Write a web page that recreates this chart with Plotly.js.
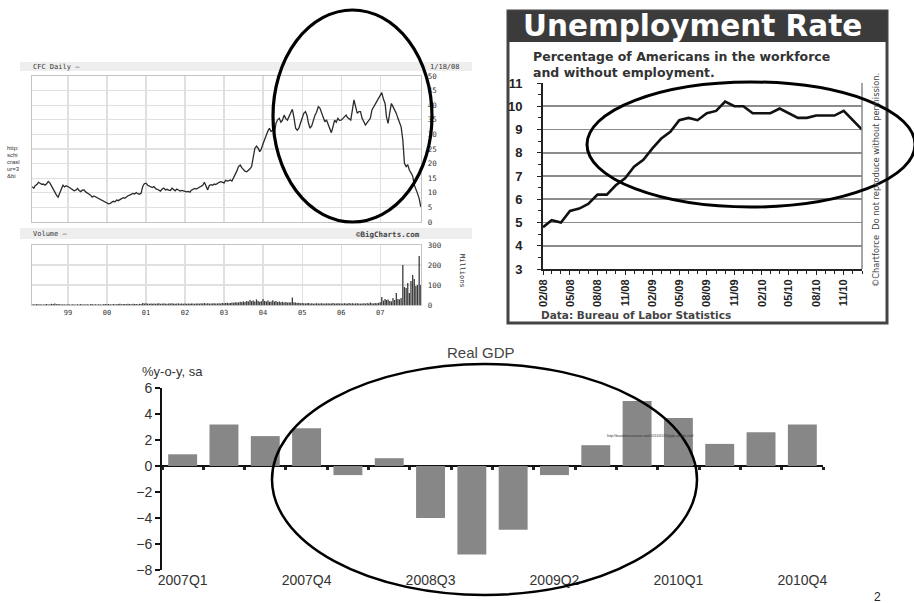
<!DOCTYPE html>
<html>
<head>
<meta charset="utf-8">
<script src="https://cdn.plot.ly/plotly-3.0.1.min.js"></script>
<style>
html,body{margin:0;padding:0;background:#fff;}
#chart{width:914px;height:603px;}
</style>
</head>
<body>
<div id="chart"></div>
<script>
// ---- CFC (Countrywide) closing price, $ : 1st and 16th of each month, Feb 1998 .. Jan 2008
const cfcPrice = [
  // 1998 (Feb-Dec)
  12.1, 11.6, 12.4, 12.8, 13.6, 13.2, 12.9, 13.0, 12.6, 13.1, 13.9, 13.4, 12.2, 11.0, 10.3, 9.2, 8.5, 10.2, 11.3, 12.6, 12.0, 12.4,
  // 1999
  12.2, 11.8, 11.4, 11.0, 10.7, 10.9, 11.5, 10.8, 10.4, 10.9, 11.0, 10.3, 9.8, 9.6, 9.2, 8.5, 8.9, 8.6, 8.1, 7.8, 7.5, 7.2, 6.9, 6.6,
  // 2000
  6.5, 6.2, 6.4, 6.8, 7.1, 6.9, 7.5, 7.3, 7.6, 7.9, 8.3, 8.1, 8.7, 9.0, 9.2, 9.5, 9.8, 9.6, 10.1, 9.7, 9.5, 9.9, 12.2, 13.1,
  // 2001
  13.3, 12.6, 12.3, 12.0, 11.8, 12.1, 11.4, 11.2, 11.0, 10.6, 11.3, 11.6, 11.0, 11.2, 10.9, 10.8, 11.6, 11.2, 10.7, 11.3, 11.0, 10.6, 10.8, 10.7,
  // 2002
  10.6, 10.3, 10.5, 10.2, 10.9, 11.1, 11.5, 11.3, 11.6, 12.0, 12.3, 12.6, 13.6, 12.2, 11.0, 12.5, 12.8, 12.6, 13.0, 12.8, 13.3, 13.6, 13.8, 13.6,
  // 2003
  13.4, 14.3, 14.0, 14.2, 14.4, 14.0, 15.2, 16.1, 17.5, 19.0, 19.5, 18.6, 18.0, 17.4, 17.2, 17.6, 18.2, 19.0, 22.4, 25.2, 26.0, 25.3, 24.1, 25.0,
  // 2004
  26.8, 28.7, 29.8, 31.2, 32.1, 31.0, 31.5, 30.4, 33.8, 35.0, 35.5, 34.2, 34.9, 36.6, 35.4, 34.9, 36.2, 37.5, 38.6, 35.8, 32.1, 31.4, 32.1, 33.8,
  // 2005
  36.0, 37.2, 37.8, 36.4, 33.8, 32.1, 33.0, 34.9, 36.6, 37.6, 39.5, 39.0, 37.2, 36.0, 34.3, 35.0, 33.2, 32.1, 30.6, 32.6, 34.9, 34.2, 35.5, 34.8,
  // 2006
  34.9, 35.4, 36.2, 36.6, 35.8, 35.3, 34.9, 38.4, 41.8, 39.5, 37.2, 37.8, 37.8, 35.5, 34.0, 33.2, 34.0, 35.0, 35.5, 38.4, 39.5, 40.6, 41.2, 42.4,
  // 2007
  43.5, 44.3, 42.0, 40.6, 36.0, 33.8, 37.5, 40.6, 39.5, 38.4, 37.2, 35.5, 34.0, 32.6, 28.1, 20.1, 19.0, 19.6, 17.8, 16.7, 15.8, 12.7, 11.5, 9.8,
  // 2008 (Jan)
  8.0, 5.2
];

// ---- CFC volume, millions of shares, same sampling
const cfcVolume = [
  3, 4, 3, 5, 3, 4, 3, 3, 4, 5, 3, 4, 6, 5, 7, 4, 5, 4, 3, 4, 3, 3,
  4, 3, 3, 4, 3, 3, 4, 3, 5, 3, 4, 3, 4, 3, 4, 5, 3, 4, 3, 4, 3, 3, 4, 5,
  4, 5, 4, 3, 5, 4, 4, 5, 6, 4, 5, 5, 4, 6, 5, 4, 6, 5, 5, 4, 6, 5, 10, 8,
  9, 7, 6, 7, 6, 8, 6, 7, 9, 6, 7, 8, 7, 6, 8, 7, 9, 7, 6, 7, 8, 6, 7, 6,
  7, 6, 7, 6, 8, 7, 6, 7, 8, 7, 9, 7, 10, 8, 9, 8, 7, 8, 9, 7, 8, 9, 8, 10,
  9, 10, 11, 9, 10, 12, 11, 14, 12, 13, 16, 14, 18, 15, 20, 17, 25, 19, 22, 18, 28, 20, 16, 19,
  30, 20, 18, 22, 16, 18, 24, 17, 20, 15, 18, 14, 16, 13, 15, 12, 14, 12, 38, 14, 12, 10, 11, 9,
  10, 9, 8, 9, 10, 8, 9, 7, 8, 9, 7, 8, 9, 8, 7, 8, 9, 7, 8, 10, 8, 7, 9, 8,
  8, 7, 9, 8, 7, 10, 8, 9, 7, 8, 9, 8, 7, 8, 9, 7, 10, 8, 12, 9, 8, 10, 9, 11,
  14, 40, 22, 30, 25, 28, 20, 18, 35, 25, 60, 30, 28, 35, 200, 90, 85, 110, 60, 120, 150, 130, 95, 100,
  245, 100
];
const cfcFirstMonth = {year: 1998, month: 2};
const cfcYearStarts = ['1999-01-01', '2000-01-01', '2001-01-01', '2002-01-01', '2003-01-01',
                       '2004-01-01', '2005-01-01', '2006-01-01', '2007-01-01'];
const cfcYearLabels = ['99', '00', '01', '02', '03', '04', '05', '06', '07'];

// ---- US unemployment rate, %, monthly Feb 2008 .. Jan 2011
const unempRate = [
  4.8, 5.1, 5.0, 5.5, 5.6, 5.8, 6.2, 6.2, 6.6, 6.9, 7.4,
  7.7, 8.2, 8.6, 8.9, 9.4, 9.5, 9.4, 9.7, 9.8, 10.2, 10.0, 10.0,
  9.7, 9.7, 9.7, 9.9, 9.7, 9.5, 9.5, 9.6, 9.6, 9.6, 9.8, 9.4,
  9.0
];
const unempFirstMonth = {year: 2008, month: 2};

// ---- Real GDP growth, %
const gdpQuarters = ['2007Q1','2007Q2','2007Q3','2007Q4','2008Q1','2008Q2','2008Q3','2008Q4',
                     '2009Q1','2009Q2','2009Q3','2009Q4','2010Q1','2010Q2','2010Q3','2010Q4'];
const gdpGrowth = [0.9, 3.2, 2.3, 2.9, -0.7, 0.6, -4.0, -6.8, -4.9, -0.7, 1.6, 5.0, 3.7, 1.7, 2.6, 3.2];
const gdpTickLabels = ['2007Q1','2007Q4','2008Q3','2009Q2','2010Q1','2010Q4'];

// ---- helpers
const W = 914, H = 603;
const fx = x => x / W;          // pixel column -> paper x
const fy = y => 1 - y / H;      // pixel row -> paper y
const pad = n => (n < 10 ? '0' : '') + n;

function semiMonthlyDates(start, count) {
  const out = [];
  for (let i = 0; i < count; i++) {
    const m = start.month - 1 + Math.floor(i / 2);
    const y = start.year + Math.floor(m / 12);
    out.push(y + '-' + pad(m % 12 + 1) + '-' + (i % 2 ? '16' : '01'));
  }
  return out;
}
function monthlyDates(start, count) {
  const out = [];
  for (let i = 0; i < count; i++) {
    const m = start.month - 1 + i;
    out.push((start.year + Math.floor(m / 12)) + '-' + pad(m % 12 + 1) + '-01');
  }
  return out;
}

const cfcDates = semiMonthlyDates(cfcFirstMonth, cfcPrice.length);
const unempDates = monthlyDates(unempFirstMonth, unempRate.length);

const MONO = "'DejaVu Sans Mono', 'Liberation Mono', monospace";
const ARIAL = "'Liberation Sans', Arial, sans-serif";
const DJV = "'DejaVu Sans', sans-serif";

const traces = [
  { // price line
    type: 'scatter', mode: 'lines', x: cfcDates, y: cfcPrice, xaxis: 'x', yaxis: 'y',
    line: {color: '#2a2a2a', width: 1.3}, hoverinfo: 'skip'
  },
  { // volume bars
    type: 'bar', x: cfcDates, y: cfcVolume, xaxis: 'x2', yaxis: 'y2',
    marker: {color: '#3a3a3a', line: {width: 0}}, width: 12 * 864e5, hoverinfo: 'skip'
  },
  { // unemployment line
    type: 'scatter', mode: 'lines', x: unempDates, y: unempRate, xaxis: 'x3', yaxis: 'y3',
    line: {color: '#111', width: 2.6}, hoverinfo: 'skip'
  },
  { // GDP bars
    type: 'bar', x: gdpQuarters, y: gdpGrowth, xaxis: 'x4', yaxis: 'y4',
    marker: {color: '#878787', line: {width: 0}}, width: 0.7, hoverinfo: 'skip'
  },
  { // carrier for the small tick marks sitting on the GDP zero line
    type: 'scatter', mode: 'lines', x: gdpQuarters.map((q, i) => i), y: gdpGrowth.map(() => 0),
    xaxis: 'x5', yaxis: 'y4', line: {width: 0, color: 'rgba(0,0,0,0)'}, hoverinfo: 'skip'
  }
];

function ann(text, x, y, o) {
  return Object.assign({
    text: text, xref: 'paper', yref: 'paper', x: fx(x), y: fy(y),
    showarrow: false, xanchor: 'left', yanchor: 'middle'
  }, o || {});
}

const annotations = [
  // clipped link text at far left
  ann('http:', 5, 148, {font: {family: ARIAL, size: 6, color: '#333'}}),
  ann('schi', 5, 155, {font: {family: ARIAL, size: 6, color: '#333'}}),
  ann('crasl', 5, 162, {font: {family: ARIAL, size: 6, color: '#333'}}),
  ann('ur=3', 5, 169, {font: {family: ARIAL, size: 6, color: '#333'}}),
  ann('&bi', 5, 176, {font: {family: ARIAL, size: 6, color: '#333'}}),

  // stock chart headers
  ann('CFC Daily \u2014', 31, 66.5, {font: {family: MONO, size: 7, color: '#333'}}),
  ann('1/18/08', 428, 66.5, {font: {family: MONO, size: 7, color: '#333'}}),
  ann('Volume \u2014', 31, 234, {font: {family: MONO, size: 7, color: '#333'}}),
  ann('\u00a9BigCharts.com', 422, 234, {xanchor: 'right', font: {family: MONO, size: 7.5, color: '#444', weight: 'bold'}}),
  ann('Millions', 462, 271, {xanchor: 'center', textangle: 90, font: {family: MONO, size: 7, color: '#333'}}),

  // unemployment chart
  ann('Unemployment Rate', 692, 26.5, {xanchor: 'center', font: {family: DJV, size: 29.5, color: '#ffffff', weight: 'bold'}}),
  ann('Percentage of Americans in the workforce<br>and without employment.', 531, 65, {align: 'left', font: {family: DJV, size: 12.5, color: '#333', weight: 'bold'}}),
  ann('Data: Bureau of Labor Statistics', 539, 315, {font: {family: DJV, size: 10.5, color: '#444', weight: 'bold'}}),
  ann('\u00a9Chartforce  Do not reproduce without permission.', 876, 180, {xanchor: 'center', textangle: -90, font: {family: DJV, size: 8.3, color: '#444'}}),

  // GDP chart
  ann('Real GDP', 481, 352, {xanchor: 'center', font: {family: ARIAL, size: 15, color: '#444'}}),
  ann('%y-o-y, sa', 140, 371, {font: {family: ARIAL, size: 13, color: '#333'}}),
  ann('http://baselinescenario.com/2011/01/31/gdp-upside-risk/', 605, 436, {font: {family: ARIAL, size: 3.5, color: '#333'}}),
  ann('2', 877, 597, {xanchor: 'center', font: {family: ARIAL, size: 12, color: '#222'}})
];

const shapes = [
  // stock chart header strips
  {type: 'rect', xref: 'paper', yref: 'paper', x0: fx(20), x1: fx(472), y0: fy(71), y1: fy(62), fillcolor: '#eeeeee', line: {width: 0}, layer: 'below'},
  {type: 'rect', xref: 'paper', yref: 'paper', x0: fx(20), x1: fx(472), y0: fy(239), y1: fy(228), fillcolor: '#eeeeee', line: {width: 0}, layer: 'below'},
  // unemployment frame and title band
  {type: 'rect', xref: 'paper', yref: 'paper', x0: fx(508), x1: fx(887), y0: fy(323), y1: fy(11), fillcolor: 'rgba(0,0,0,0)', line: {color: '#444', width: 3}, layer: 'below'},
  {type: 'rect', xref: 'paper', yref: 'paper', x0: fx(508), x1: fx(887), y0: fy(42), y1: fy(11), fillcolor: '#3b3b3b', line: {width: 0}, layer: 'below'},
  // right edge of the unemployment plot
  {type: 'line', xref: 'x3 domain', yref: 'y3 domain', x0: 1, x1: 1, y0: 0, y1: 1, line: {color: '#888', width: 1.5}},
  // highlight ellipses
  {type: 'circle', xref: 'paper', yref: 'paper', x0: fx(273), x1: fx(432), y0: fy(222), y1: fy(10), line: {color: '#000', width: 3.2}},
  {type: 'circle', xref: 'paper', yref: 'paper', x0: fx(587), x1: fx(915), y0: fy(207), y1: fy(82), line: {color: '#000', width: 3}},
  {type: 'circle', xref: 'paper', yref: 'paper', x0: fx(272), x1: fx(697), y0: fy(595), y1: fy(364), line: {color: '#000', width: 2.5}}
];

const gridGrey = '#e0e0e0';
const cfcRange = ['1998-01-30', '2008-01-18'];

const layout = {
  width: W, height: H, autosize: false,
  margin: {l: 0, r: 0, t: 0, b: 0, pad: 0},
  paper_bgcolor: '#ffffff', plot_bgcolor: 'rgba(0,0,0,0)',
  showlegend: false, hovermode: false,

  // price panel
  xaxis: {domain: [fx(32), fx(421)], anchor: 'y', type: 'date', range: cfcRange,
          tickmode: 'array', tickvals: cfcYearStarts, showticklabels: false, ticks: '',
          showgrid: true, gridcolor: gridGrey, gridwidth: 1.2,
          showline: true, mirror: true, linecolor: '#c4c4c4', linewidth: 1.2, zeroline: false},
  yaxis: {domain: [fy(222), fy(76)], anchor: 'x', range: [0, 50], dtick: 5, side: 'right',
          showgrid: true, gridcolor: gridGrey, gridwidth: 1.2, ticks: '', zeroline: false,
          showline: true, mirror: true, linecolor: '#c4c4c4', linewidth: 1.2,
          ticklabelstandoff: 4,
          tickfont: {family: MONO, size: 7.5, color: '#333'}},

  // volume panel
  xaxis2: {domain: [fx(32), fx(421)], anchor: 'y2', type: 'date', range: cfcRange,
           tickmode: 'array', tickvals: cfcYearStarts, ticktext: cfcYearLabels, ticks: '',
           showgrid: true, gridcolor: gridGrey, gridwidth: 1.2,
           showline: true, mirror: true, linecolor: '#c4c4c4', linewidth: 1.2, zeroline: false,
           tickfont: {family: MONO, size: 7, color: '#333'}},
  yaxis2: {domain: [fy(305), fy(245)], anchor: 'x2', range: [0, 300], dtick: 100, side: 'right',
           showgrid: true, gridcolor: gridGrey, gridwidth: 1.2, ticks: '', zeroline: false,
           showline: true, mirror: true, linecolor: '#c4c4c4', linewidth: 1.2,
           ticklabelstandoff: 4,
           tickfont: {family: MONO, size: 7.5, color: '#333'}},

  // unemployment panel
  xaxis3: {domain: [fx(543), fx(862)], anchor: 'y3', type: 'date',
           range: ['2008-02-01', '2011-01-01'], tick0: '2008-02-01', dtick: 'M3',
           tickformat: '%m/%y', tickangle: -90, ticks: 'outside', ticklen: 4, tickcolor: '#222',
           minor: {dtick: 'M1', ticks: 'outside', ticklen: 3, tickcolor: '#222', showgrid: false},
           showgrid: false, zeroline: false, showline: true, linecolor: '#222', linewidth: 2,
           tickfont: {family: ARIAL, size: 11, color: '#222', weight: 'bold'}},
  yaxis3: {domain: [fy(269), fy(83)], anchor: 'x3', range: [3, 11], dtick: 1,
           ticks: 'outside', ticklen: 4, tickcolor: '#222',
           minor: {dtick: 0.5, ticks: 'outside', ticklen: 3, tickcolor: '#222', showgrid: false},
           showgrid: true, gridcolor: '#8c8c8c', gridwidth: 1.6, zeroline: false,
           showline: true, linecolor: '#222', linewidth: 2,
           ticklabelstandoff: 12,
           tickfont: {family: ARIAL, size: 13, color: '#222', weight: 'bold'}},

  // GDP panel
  xaxis4: {domain: [fx(162), fx(823)], anchor: 'y4', type: 'category',
           categoryorder: 'array', categoryarray: gdpQuarters, range: [-0.5, 15.5],
           tickmode: 'array', tickvals: gdpTickLabels, ticktext: gdpTickLabels,
           ticks: '', showgrid: false, showline: false, zeroline: false,
           tickfont: {family: ARIAL, size: 14, color: '#333'}},
  xaxis5: {overlaying: 'x4', anchor: 'free', position: fy(466), range: [-0.5, 15.5],
           tickmode: 'linear', tick0: 0.5, dtick: 1, ticks: 'outside', ticklen: 3, tickwidth: 3,
           tickcolor: '#222', showticklabels: false, showgrid: false, showline: false, zeroline: false},
  yaxis4: {domain: [fy(570), fy(388)], anchor: 'x4', range: [-8, 6], dtick: 2,
           ticks: 'outside', ticklen: 5, tickwidth: 2, tickcolor: '#111',
           showgrid: false, showline: true, linecolor: '#111', linewidth: 2,
           zeroline: true, zerolinecolor: '#111', zerolinewidth: 2,
           tickfont: {family: ARIAL, size: 14, color: '#333'}},

  annotations: annotations,
  shapes: shapes
};

Plotly.newPlot('chart', traces, layout, {staticPlot: true, displayModeBar: false});
</script>
</body>
</html>
